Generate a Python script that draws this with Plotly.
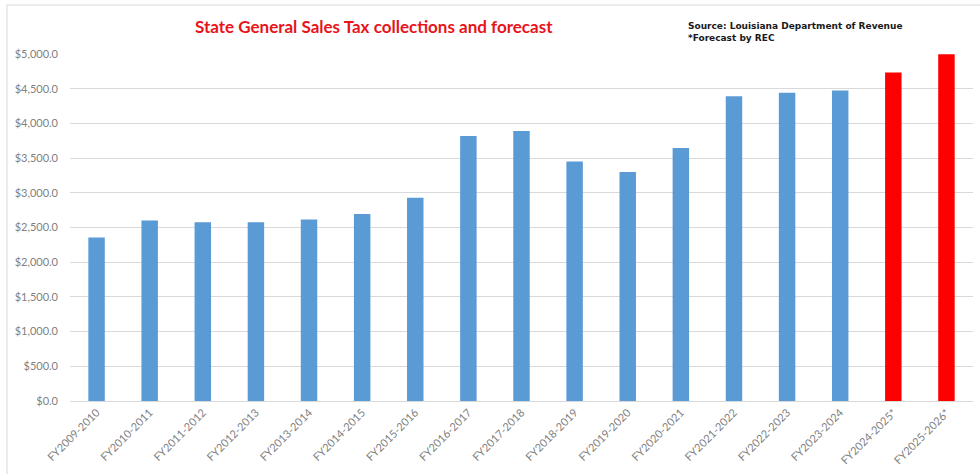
import plotly.graph_objects as go

categories = ["FY2009-2010", "FY2010-2011", "FY2011-2012", "FY2012-2013", "FY2013-2014",
              "FY2014-2015", "FY2015-2016", "FY2016-2017", "FY2017-2018", "FY2018-2019",
              "FY2019-2020", "FY2020-2021", "FY2021-2022", "FY2022-2023", "FY2023-2024",
              "FY2024-2025*", "FY2025-2026*"]
values = [2356, 2601, 2576, 2576, 2615, 2696, 2927, 3820, 3892, 3451,
          3301, 3647, 4392, 4440, 4474, 4733, 4997]
is_forecast = [False] * 15 + [True, True]

BLUE = "#5B9BD5"
RED = "#FF0000"
colors = [RED if f else BLUE for f in is_forecast]

W, H = 980, 474
L, R, T, B = 70, 7, 54, 73
pw, ph = W - L - R, H - T - B


def px_x(x):
    return (x - L) / pw


def px_y(y):
    return (H - B - y) / ph


fig = go.Figure(go.Bar(x=categories, y=values, marker=dict(color=colors, line=dict(width=0)),
                       hoverinfo="x+y"))

fig.update_layout(
    width=W, height=H,
    margin=dict(l=L, r=R, t=T, b=B),
    paper_bgcolor="white", plot_bgcolor="white",
    bargap=0.69,
    showlegend=False,
    font=dict(family="Lato, Carlito, sans-serif", color="#7F7F7F", size=11),
    xaxis=dict(tickangle=-45, showgrid=False, showline=True, linecolor="#D9D9D9",
               linewidth=1, ticks="", tickfont=dict(size=11, color="#7F7F7F")),
    yaxis=dict(range=[0, 5000], dtick=500, tickformat="$,.1f", showgrid=True,
               gridcolor="#D9D9D9", gridwidth=1, zeroline=False, ticks="",
               tickfont=dict(size=11, color="#7F7F7F"), ticklabelstandoff=11),
)

shapes = [
    # white box behind source note (hides gridline)
    dict(type="rect", xref="paper", yref="paper", x0=px_x(678), x1=px_x(925),
         y0=px_y(56), y1=px_y(10), fillcolor="white", line=dict(width=0), layer="above"),
    # chart border lines
    dict(type="line", xref="paper", yref="paper", x0=px_x(7), x1=px_x(7),
         y0=px_y(5), y1=px_y(480), line=dict(color="#D9D9D9", width=1), layer="above"),
    dict(type="line", xref="paper", yref="paper", x0=px_x(7), x1=px_x(985),
         y0=px_y(5), y1=px_y(5), line=dict(color="#D9D9D9", width=1), layer="above"),
]
fig.update_layout(shapes=shapes)

fig.add_annotation(x=px_x(374), y=px_y(26.5), xref="paper", yref="paper",
                   text="<b>State General Sales Tax collections and forecast</b>",
                   showarrow=False, xanchor="center", yanchor="middle",
                   font=dict(family="Lato, sans-serif", size=17, color="#E8141B"))
fig.add_annotation(x=px_x(686), y=px_y(18.5), xref="paper", yref="paper",
                   text="<b>Source: Louisiana Department of Revenue<br>*Forecast by REC</b>",
                   showarrow=False, xanchor="left", yanchor="top", align="left",
                   font=dict(family="DejaVu Sans, Verdana, sans-serif", size=9, color="#1A1A1A"))

fig.write_html("out.html", config={"displayModeBar": False},
               post_script="document.body.style.margin='0px';")
